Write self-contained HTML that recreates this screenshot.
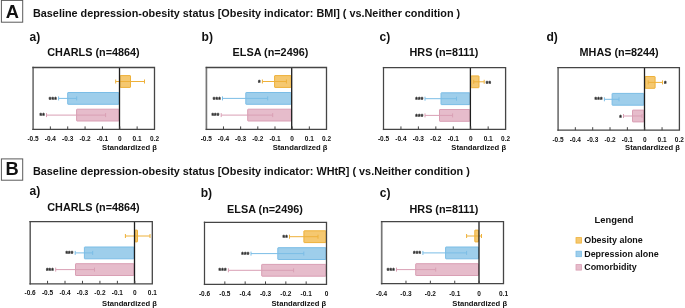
<!DOCTYPE html>
<html><head><meta charset="utf-8"><style>
html,body{margin:0;padding:0;background:#fff;}
body{width:685px;height:308px;overflow:hidden;}
svg{display:block;will-change:transform;}
text{font-family:"Liberation Sans", sans-serif;fill:#111;}
.big{font-size:18.3px;font-weight:bold;}
.mt{font-size:10.84px;font-weight:bold;}
.ti{font-size:10.84px;font-weight:bold;}
.lb{font-size:13px;font-weight:bold;}
.tk{font-size:7.95px;font-weight:bold;}
.sd{font-size:8.05px;font-weight:bold;}
.st{font-size:6.4px;font-weight:bold;fill:#222;stroke:#333;stroke-width:0.3px;letter-spacing:0.25px;}
.lg{font-size:8.95px;font-weight:bold;}
</style></head><body>
<svg width="685" height="308" viewBox="0 0 685 308">
<rect x="1.4" y="0.4" width="21.3" height="21.8" fill="#fff" stroke="#5a5a5a" stroke-width="1"/>
<text x="5.8" y="17.5" class="big">A</text>
<text x="33" y="16.6" class="mt">Baseline depression-obesity status [Obesity indicator: BMI] ( vs.Neither condition )</text>
<rect x="1.4" y="158.9" width="21.3" height="21.3" fill="#fff" stroke="#5a5a5a" stroke-width="1"/>
<text x="5.6" y="174.9" class="big">B</text>
<text x="33" y="174.8" class="mt">Baseline depression-obesity status [Obesity indicator: WHtR] ( vs.Neither condition )</text>
<rect x="120.00" y="75.60" width="10.50" height="11.80" rx="0.4" fill="#F5C870" stroke="#EEB13A" stroke-width="1"/>
<path d="M115.70 81.50H144.50M115.70 79.50V83.50M144.50 79.50V83.50" stroke="#EEB13A" stroke-width="1" fill="none"/>
<rect x="67.70" y="92.50" width="51.30" height="11.80" rx="0.4" fill="#9ECEEB" stroke="#7BBDE6" stroke-width="1"/>
<path d="M58.60 98.40H76.70M58.60 96.40V100.40M76.70 96.40V100.40" stroke="#7BBDE6" stroke-width="1" fill="none"/>
<text x="57.00" y="101.50" class="st" text-anchor="end">***</text>
<rect x="76.60" y="109.20" width="42.40" height="11.80" rx="0.4" fill="#E6BCCB" stroke="#D99FB4" stroke-width="1"/>
<path d="M46.50 115.10H105.60M46.50 113.10V117.10M105.60 113.10V117.10" stroke="#D99FB4" stroke-width="1" fill="none"/>
<text x="44.90" y="118.20" class="st" text-anchor="end">**</text>
<line x1="119.50" y1="67.50" x2="119.50" y2="129.40" stroke="#1e1e1e" stroke-width="1.3"/>
<line x1="50.36" y1="126.40" x2="50.36" y2="129.40" stroke="#454545" stroke-width="1"/>
<line x1="67.71" y1="126.40" x2="67.71" y2="129.40" stroke="#454545" stroke-width="1"/>
<line x1="85.07" y1="126.40" x2="85.07" y2="129.40" stroke="#454545" stroke-width="1"/>
<line x1="102.43" y1="126.40" x2="102.43" y2="129.40" stroke="#454545" stroke-width="1"/>
<line x1="119.79" y1="126.40" x2="119.79" y2="129.40" stroke="#454545" stroke-width="1"/>
<line x1="137.14" y1="126.40" x2="137.14" y2="129.40" stroke="#454545" stroke-width="1"/>
<path d="M33.10 66.85V130.05" stroke="#767676" stroke-width="1.7" fill="none"/>
<path d="M32.35 67.50H154.50V129.40H32.35" stroke="#454545" stroke-width="1.3" fill="none" stroke-linejoin="miter"/>
<text x="33.00" y="140.80" class="tk" text-anchor="middle" transform="translate(33.00 0) scale(0.82 1) translate(-33.00 0)">-0.5</text>
<text x="50.36" y="140.80" class="tk" text-anchor="middle" transform="translate(50.36 0) scale(0.82 1) translate(-50.36 0)">-0.4</text>
<text x="67.71" y="140.80" class="tk" text-anchor="middle" transform="translate(67.71 0) scale(0.82 1) translate(-67.71 0)">-0.3</text>
<text x="85.07" y="140.80" class="tk" text-anchor="middle" transform="translate(85.07 0) scale(0.82 1) translate(-85.07 0)">-0.2</text>
<text x="102.43" y="140.80" class="tk" text-anchor="middle" transform="translate(102.43 0) scale(0.82 1) translate(-102.43 0)">-0.1</text>
<text x="119.79" y="140.80" class="tk" text-anchor="middle" transform="translate(119.79 0) scale(0.82 1) translate(-119.79 0)">0</text>
<text x="137.14" y="140.80" class="tk" text-anchor="middle" transform="translate(137.14 0) scale(0.82 1) translate(-137.14 0)">0.1</text>
<text x="154.50" y="140.80" class="tk" text-anchor="middle" transform="translate(154.50 0) scale(0.82 1) translate(-154.50 0)">0.2</text>
<text x="102.10" y="150.50" class="sd" transform="translate(102.10 0) scale(0.95 1) translate(-102.10 0)">Standardized β</text>
<text x="29.50" y="40.60" class="lb" transform="translate(29.50 0) scale(0.93 1) translate(-29.50 0)">a)</text>
<text x="47.30" y="55.60" class="ti">CHARLS (n=4864)</text>
<rect x="274.60" y="75.60" width="16.60" height="11.80" rx="0.4" fill="#F5C870" stroke="#EEB13A" stroke-width="1"/>
<path d="M262.40 81.50H286.40M262.40 79.50V83.50M286.40 79.50V83.50" stroke="#EEB13A" stroke-width="1" fill="none"/>
<text x="260.80" y="84.60" class="st" text-anchor="end">*</text>
<rect x="245.80" y="92.50" width="45.40" height="11.80" rx="0.4" fill="#9ECEEB" stroke="#7BBDE6" stroke-width="1"/>
<path d="M222.50 98.40H267.70M222.50 96.40V100.40M267.70 96.40V100.40" stroke="#7BBDE6" stroke-width="1" fill="none"/>
<text x="220.90" y="101.50" class="st" text-anchor="end">***</text>
<rect x="247.70" y="109.20" width="43.50" height="11.80" rx="0.4" fill="#E6BCCB" stroke="#D99FB4" stroke-width="1"/>
<path d="M221.20 115.10H272.70M221.20 113.10V117.10M272.70 113.10V117.10" stroke="#D99FB4" stroke-width="1" fill="none"/>
<text x="219.60" y="118.20" class="st" text-anchor="end">***</text>
<line x1="291.70" y1="67.50" x2="291.70" y2="129.40" stroke="#1e1e1e" stroke-width="1.3"/>
<line x1="223.47" y1="126.40" x2="223.47" y2="129.40" stroke="#454545" stroke-width="1"/>
<line x1="240.64" y1="126.40" x2="240.64" y2="129.40" stroke="#454545" stroke-width="1"/>
<line x1="257.81" y1="126.40" x2="257.81" y2="129.40" stroke="#454545" stroke-width="1"/>
<line x1="274.99" y1="126.40" x2="274.99" y2="129.40" stroke="#454545" stroke-width="1"/>
<line x1="292.16" y1="126.40" x2="292.16" y2="129.40" stroke="#454545" stroke-width="1"/>
<line x1="309.33" y1="126.40" x2="309.33" y2="129.40" stroke="#454545" stroke-width="1"/>
<path d="M206.40 66.85V130.05" stroke="#767676" stroke-width="1.7" fill="none"/>
<path d="M205.65 67.50H326.50V129.40H205.65" stroke="#454545" stroke-width="1.3" fill="none" stroke-linejoin="miter"/>
<text x="206.30" y="140.80" class="tk" text-anchor="middle" transform="translate(206.30 0) scale(0.82 1) translate(-206.30 0)">-0.5</text>
<text x="223.47" y="140.80" class="tk" text-anchor="middle" transform="translate(223.47 0) scale(0.82 1) translate(-223.47 0)">-0.4</text>
<text x="240.64" y="140.80" class="tk" text-anchor="middle" transform="translate(240.64 0) scale(0.82 1) translate(-240.64 0)">-0.3</text>
<text x="257.81" y="140.80" class="tk" text-anchor="middle" transform="translate(257.81 0) scale(0.82 1) translate(-257.81 0)">-0.2</text>
<text x="274.99" y="140.80" class="tk" text-anchor="middle" transform="translate(274.99 0) scale(0.82 1) translate(-274.99 0)">-0.1</text>
<text x="292.16" y="140.80" class="tk" text-anchor="middle" transform="translate(292.16 0) scale(0.82 1) translate(-292.16 0)">0</text>
<text x="309.33" y="140.80" class="tk" text-anchor="middle" transform="translate(309.33 0) scale(0.82 1) translate(-309.33 0)">0.1</text>
<text x="326.50" y="140.80" class="tk" text-anchor="middle" transform="translate(326.50 0) scale(0.82 1) translate(-326.50 0)">0.2</text>
<text x="272.70" y="150.50" class="sd" transform="translate(272.70 0) scale(0.95 1) translate(-272.70 0)">Standardized β</text>
<text x="201.60" y="41.10" class="lb" transform="translate(201.60 0) scale(0.93 1) translate(-201.60 0)">b)</text>
<text x="232.60" y="56.00" class="ti">ELSA (n=2496)</text>
<rect x="470.90" y="75.90" width="8.10" height="11.80" rx="0.4" fill="#F5C870" stroke="#EEB13A" stroke-width="1"/>
<path d="M473.70 81.80H484.20M473.70 79.80V83.80M484.20 79.80V83.80" stroke="#EEB13A" stroke-width="1" fill="none"/>
<text x="485.80" y="85.80" class="st">**</text>
<rect x="441.00" y="92.80" width="28.90" height="11.80" rx="0.4" fill="#9ECEEB" stroke="#7BBDE6" stroke-width="1"/>
<path d="M425.00 98.70H456.50M425.00 96.70V100.70M456.50 96.70V100.70" stroke="#7BBDE6" stroke-width="1" fill="none"/>
<text x="423.40" y="101.80" class="st" text-anchor="end">***</text>
<rect x="439.50" y="109.50" width="30.40" height="11.80" rx="0.4" fill="#E6BCCB" stroke="#D99FB4" stroke-width="1"/>
<path d="M425.00 115.40H452.60M425.00 113.40V117.40M452.60 113.40V117.40" stroke="#D99FB4" stroke-width="1" fill="none"/>
<text x="423.40" y="118.50" class="st" text-anchor="end">***</text>
<line x1="470.40" y1="67.60" x2="470.40" y2="129.40" stroke="#1e1e1e" stroke-width="1.3"/>
<line x1="400.94" y1="126.40" x2="400.94" y2="129.40" stroke="#454545" stroke-width="1"/>
<line x1="418.39" y1="126.40" x2="418.39" y2="129.40" stroke="#454545" stroke-width="1"/>
<line x1="435.83" y1="126.40" x2="435.83" y2="129.40" stroke="#454545" stroke-width="1"/>
<line x1="453.27" y1="126.40" x2="453.27" y2="129.40" stroke="#454545" stroke-width="1"/>
<line x1="470.71" y1="126.40" x2="470.71" y2="129.40" stroke="#454545" stroke-width="1"/>
<line x1="488.16" y1="126.40" x2="488.16" y2="129.40" stroke="#454545" stroke-width="1"/>
<path d="M383.50 66.95V130.05" stroke="#454545" stroke-width="1.25" fill="none"/>
<path d="M382.85 67.60H505.60V129.40H382.85" stroke="#454545" stroke-width="1.3" fill="none" stroke-linejoin="miter"/>
<text x="383.50" y="140.80" class="tk" text-anchor="middle" transform="translate(383.50 0) scale(0.82 1) translate(-383.50 0)">-0.5</text>
<text x="400.94" y="140.80" class="tk" text-anchor="middle" transform="translate(400.94 0) scale(0.82 1) translate(-400.94 0)">-0.4</text>
<text x="418.39" y="140.80" class="tk" text-anchor="middle" transform="translate(418.39 0) scale(0.82 1) translate(-418.39 0)">-0.3</text>
<text x="435.83" y="140.80" class="tk" text-anchor="middle" transform="translate(435.83 0) scale(0.82 1) translate(-435.83 0)">-0.2</text>
<text x="453.27" y="140.80" class="tk" text-anchor="middle" transform="translate(453.27 0) scale(0.82 1) translate(-453.27 0)">-0.1</text>
<text x="470.71" y="140.80" class="tk" text-anchor="middle" transform="translate(470.71 0) scale(0.82 1) translate(-470.71 0)">0</text>
<text x="488.16" y="140.80" class="tk" text-anchor="middle" transform="translate(488.16 0) scale(0.82 1) translate(-488.16 0)">0.1</text>
<text x="505.60" y="140.80" class="tk" text-anchor="middle" transform="translate(505.60 0) scale(0.82 1) translate(-505.60 0)">0.2</text>
<text x="451.30" y="150.50" class="sd" transform="translate(451.30 0) scale(0.95 1) translate(-451.30 0)">Standardized β</text>
<text x="379.50" y="41.00" class="lb" transform="translate(379.50 0) scale(0.93 1) translate(-379.50 0)">c)</text>
<text x="409.50" y="56.10" class="ti">HRS (n=8111)</text>
<rect x="645.00" y="76.50" width="10.10" height="11.80" rx="0.4" fill="#F5C870" stroke="#EEB13A" stroke-width="1"/>
<path d="M648.20 82.40H662.50M648.20 80.40V84.40M662.50 80.40V84.40" stroke="#EEB13A" stroke-width="1" fill="none"/>
<text x="664.10" y="85.50" class="st">*</text>
<rect x="612.10" y="93.40" width="31.90" height="11.80" rx="0.4" fill="#9ECEEB" stroke="#7BBDE6" stroke-width="1"/>
<path d="M604.40 99.30H619.00M604.40 97.30V101.30M619.00 97.30V101.30" stroke="#7BBDE6" stroke-width="1" fill="none"/>
<text x="602.80" y="102.40" class="st" text-anchor="end">***</text>
<rect x="632.50" y="110.10" width="11.50" height="11.80" rx="0.4" fill="#E6BCCB" stroke="#D99FB4" stroke-width="1"/>
<path d="M623.50 116.00H642.00M623.50 114.00V118.00M642.00 114.00V118.00" stroke="#D99FB4" stroke-width="1" fill="none"/>
<text x="621.90" y="120.40" class="st" text-anchor="end">*</text>
<line x1="644.50" y1="67.60" x2="644.50" y2="130.20" stroke="#1e1e1e" stroke-width="1.3"/>
<line x1="575.34" y1="127.20" x2="575.34" y2="130.20" stroke="#454545" stroke-width="1"/>
<line x1="592.69" y1="127.20" x2="592.69" y2="130.20" stroke="#454545" stroke-width="1"/>
<line x1="610.03" y1="127.20" x2="610.03" y2="130.20" stroke="#454545" stroke-width="1"/>
<line x1="627.37" y1="127.20" x2="627.37" y2="130.20" stroke="#454545" stroke-width="1"/>
<line x1="644.71" y1="127.20" x2="644.71" y2="130.20" stroke="#454545" stroke-width="1"/>
<line x1="662.06" y1="127.20" x2="662.06" y2="130.20" stroke="#454545" stroke-width="1"/>
<path d="M558.10 66.95V130.85" stroke="#767676" stroke-width="1.7" fill="none"/>
<path d="M557.35 67.60H679.40V130.20H557.35" stroke="#454545" stroke-width="1.3" fill="none" stroke-linejoin="miter"/>
<text x="558.00" y="142.10" class="tk" text-anchor="middle" transform="translate(558.00 0) scale(0.82 1) translate(-558.00 0)">-0.5</text>
<text x="575.34" y="142.10" class="tk" text-anchor="middle" transform="translate(575.34 0) scale(0.82 1) translate(-575.34 0)">-0.4</text>
<text x="592.69" y="142.10" class="tk" text-anchor="middle" transform="translate(592.69 0) scale(0.82 1) translate(-592.69 0)">-0.3</text>
<text x="610.03" y="142.10" class="tk" text-anchor="middle" transform="translate(610.03 0) scale(0.82 1) translate(-610.03 0)">-0.2</text>
<text x="627.37" y="142.10" class="tk" text-anchor="middle" transform="translate(627.37 0) scale(0.82 1) translate(-627.37 0)">-0.1</text>
<text x="644.71" y="142.10" class="tk" text-anchor="middle" transform="translate(644.71 0) scale(0.82 1) translate(-644.71 0)">0</text>
<text x="662.06" y="142.10" class="tk" text-anchor="middle" transform="translate(662.06 0) scale(0.82 1) translate(-662.06 0)">0.1</text>
<text x="679.40" y="142.10" class="tk" text-anchor="middle" transform="translate(679.40 0) scale(0.82 1) translate(-679.40 0)">0.2</text>
<text x="625.10" y="150.50" class="sd" transform="translate(625.10 0) scale(0.95 1) translate(-625.10 0)">Standardized β</text>
<text x="546.40" y="40.80" class="lb" transform="translate(546.40 0) scale(0.93 1) translate(-546.40 0)">d)</text>
<text x="579.60" y="56.20" class="ti">MHAS (n=8244)</text>
<rect x="135.00" y="230.10" width="2.50" height="11.80" rx="0.4" fill="#F5C870" stroke="#EEB13A" stroke-width="1"/>
<path d="M125.40 236.00H150.00M125.40 234.00V238.00M150.00 234.00V238.00" stroke="#EEB13A" stroke-width="1" fill="none"/>
<rect x="84.40" y="247.00" width="49.60" height="11.80" rx="0.4" fill="#9ECEEB" stroke="#7BBDE6" stroke-width="1"/>
<path d="M75.20 252.90H92.70M75.20 250.90V254.90M92.70 250.90V254.90" stroke="#7BBDE6" stroke-width="1" fill="none"/>
<text x="73.60" y="256.00" class="st" text-anchor="end">***</text>
<rect x="75.50" y="263.70" width="58.50" height="11.80" rx="0.4" fill="#E6BCCB" stroke="#D99FB4" stroke-width="1"/>
<path d="M55.70 269.60H94.50M55.70 267.60V271.60M94.50 267.60V271.60" stroke="#D99FB4" stroke-width="1" fill="none"/>
<text x="54.10" y="272.70" class="st" text-anchor="end">***</text>
<line x1="134.50" y1="221.60" x2="134.50" y2="283.80" stroke="#1e1e1e" stroke-width="1.3"/>
<line x1="47.56" y1="280.80" x2="47.56" y2="283.80" stroke="#454545" stroke-width="1"/>
<line x1="65.01" y1="280.80" x2="65.01" y2="283.80" stroke="#454545" stroke-width="1"/>
<line x1="82.47" y1="280.80" x2="82.47" y2="283.80" stroke="#454545" stroke-width="1"/>
<line x1="99.93" y1="280.80" x2="99.93" y2="283.80" stroke="#454545" stroke-width="1"/>
<line x1="117.39" y1="280.80" x2="117.39" y2="283.80" stroke="#454545" stroke-width="1"/>
<line x1="134.84" y1="280.80" x2="134.84" y2="283.80" stroke="#454545" stroke-width="1"/>
<path d="M30.20 220.95V284.45" stroke="#5c5c5c" stroke-width="1.5" fill="none"/>
<path d="M29.45 221.60H152.30V283.80H29.45" stroke="#454545" stroke-width="1.3" fill="none" stroke-linejoin="miter"/>
<text x="30.10" y="295.50" class="tk" text-anchor="middle" transform="translate(30.10 0) scale(0.82 1) translate(-30.10 0)">-0.6</text>
<text x="47.56" y="295.50" class="tk" text-anchor="middle" transform="translate(47.56 0) scale(0.82 1) translate(-47.56 0)">-0.5</text>
<text x="65.01" y="295.50" class="tk" text-anchor="middle" transform="translate(65.01 0) scale(0.82 1) translate(-65.01 0)">-0.4</text>
<text x="82.47" y="295.50" class="tk" text-anchor="middle" transform="translate(82.47 0) scale(0.82 1) translate(-82.47 0)">-0.3</text>
<text x="99.93" y="295.50" class="tk" text-anchor="middle" transform="translate(99.93 0) scale(0.82 1) translate(-99.93 0)">-0.2</text>
<text x="117.39" y="295.50" class="tk" text-anchor="middle" transform="translate(117.39 0) scale(0.82 1) translate(-117.39 0)">-0.1</text>
<text x="134.84" y="295.50" class="tk" text-anchor="middle" transform="translate(134.84 0) scale(0.82 1) translate(-134.84 0)">0</text>
<text x="152.30" y="295.50" class="tk" text-anchor="middle" transform="translate(152.30 0) scale(0.82 1) translate(-152.30 0)">0.1</text>
<text x="102.10" y="305.70" class="sd" transform="translate(102.10 0) scale(0.95 1) translate(-102.10 0)">Standardized β</text>
<text x="29.50" y="195.50" class="lb" transform="translate(29.50 0) scale(0.93 1) translate(-29.50 0)">a)</text>
<text x="47.30" y="211.30" class="ti">CHARLS (n=4864)</text>
<rect x="303.90" y="230.80" width="22.10" height="11.80" rx="0.4" fill="#F5C870" stroke="#EEB13A" stroke-width="1"/>
<path d="M289.50 236.70H318.00M289.50 234.70V238.70M318.00 234.70V238.70" stroke="#EEB13A" stroke-width="1" fill="none"/>
<text x="287.90" y="239.80" class="st" text-anchor="end">**</text>
<rect x="277.80" y="247.70" width="48.20" height="11.80" rx="0.4" fill="#9ECEEB" stroke="#7BBDE6" stroke-width="1"/>
<path d="M251.00 253.60H303.80M251.00 251.60V255.60M303.80 251.60V255.60" stroke="#7BBDE6" stroke-width="1" fill="none"/>
<text x="249.40" y="256.70" class="st" text-anchor="end">***</text>
<rect x="261.70" y="264.40" width="64.30" height="11.80" rx="0.4" fill="#E6BCCB" stroke="#D99FB4" stroke-width="1"/>
<path d="M228.40 270.30H293.60M228.40 268.30V272.30M293.60 268.30V272.30" stroke="#D99FB4" stroke-width="1" fill="none"/>
<text x="226.80" y="273.40" class="st" text-anchor="end">***</text>
<line x1="224.83" y1="281.40" x2="224.83" y2="284.40" stroke="#454545" stroke-width="1"/>
<line x1="245.17" y1="281.40" x2="245.17" y2="284.40" stroke="#454545" stroke-width="1"/>
<line x1="265.50" y1="281.40" x2="265.50" y2="284.40" stroke="#454545" stroke-width="1"/>
<line x1="285.83" y1="281.40" x2="285.83" y2="284.40" stroke="#454545" stroke-width="1"/>
<line x1="306.17" y1="281.40" x2="306.17" y2="284.40" stroke="#454545" stroke-width="1"/>
<path d="M204.50 221.65V285.05" stroke="#454545" stroke-width="1.25" fill="none"/>
<path d="M203.85 222.30H326.50V284.40H203.85" stroke="#454545" stroke-width="1.3" fill="none" stroke-linejoin="miter"/>
<text x="204.50" y="295.60" class="tk" text-anchor="middle" transform="translate(204.50 0) scale(0.82 1) translate(-204.50 0)">-0.6</text>
<text x="224.83" y="295.60" class="tk" text-anchor="middle" transform="translate(224.83 0) scale(0.82 1) translate(-224.83 0)">-0.5</text>
<text x="245.17" y="295.60" class="tk" text-anchor="middle" transform="translate(245.17 0) scale(0.82 1) translate(-245.17 0)">-0.4</text>
<text x="265.50" y="295.60" class="tk" text-anchor="middle" transform="translate(265.50 0) scale(0.82 1) translate(-265.50 0)">-0.3</text>
<text x="285.83" y="295.60" class="tk" text-anchor="middle" transform="translate(285.83 0) scale(0.82 1) translate(-285.83 0)">-0.2</text>
<text x="306.17" y="295.60" class="tk" text-anchor="middle" transform="translate(306.17 0) scale(0.82 1) translate(-306.17 0)">-0.1</text>
<text x="326.50" y="295.60" class="tk" text-anchor="middle" transform="translate(326.50 0) scale(0.82 1) translate(-326.50 0)">0</text>
<text x="271.50" y="305.70" class="sd" transform="translate(271.50 0) scale(0.95 1) translate(-271.50 0)">Standardized β</text>
<text x="200.70" y="196.80" class="lb" transform="translate(200.70 0) scale(0.93 1) translate(-200.70 0)">b)</text>
<text x="227.10" y="213.20" class="ti">ELSA (n=2496)</text>
<rect x="474.80" y="230.10" width="3.70" height="11.80" rx="0.4" fill="#F5C870" stroke="#EEB13A" stroke-width="1"/>
<path d="M466.60 236.00H481.50M466.60 234.00V238.00M481.50 234.00V238.00" stroke="#EEB13A" stroke-width="1" fill="none"/>
<rect x="445.60" y="247.00" width="32.90" height="11.80" rx="0.4" fill="#9ECEEB" stroke="#7BBDE6" stroke-width="1"/>
<path d="M422.90 252.90H466.60M422.90 250.90V254.90M466.60 250.90V254.90" stroke="#7BBDE6" stroke-width="1" fill="none"/>
<text x="421.30" y="256.00" class="st" text-anchor="end">***</text>
<rect x="415.70" y="263.70" width="62.80" height="11.80" rx="0.4" fill="#E6BCCB" stroke="#D99FB4" stroke-width="1"/>
<path d="M396.50 269.60H435.70M396.50 267.60V271.60M435.70 267.60V271.60" stroke="#D99FB4" stroke-width="1" fill="none"/>
<text x="394.90" y="272.70" class="st" text-anchor="end">***</text>
<line x1="479.00" y1="221.60" x2="479.00" y2="283.70" stroke="#1e1e1e" stroke-width="1.3"/>
<line x1="405.98" y1="280.70" x2="405.98" y2="283.70" stroke="#454545" stroke-width="1"/>
<line x1="430.36" y1="280.70" x2="430.36" y2="283.70" stroke="#454545" stroke-width="1"/>
<line x1="454.74" y1="280.70" x2="454.74" y2="283.70" stroke="#454545" stroke-width="1"/>
<line x1="479.12" y1="280.70" x2="479.12" y2="283.70" stroke="#454545" stroke-width="1"/>
<path d="M381.70 220.95V284.35" stroke="#767676" stroke-width="1.7" fill="none"/>
<path d="M380.95 221.60H503.50V283.70H380.95" stroke="#454545" stroke-width="1.3" fill="none" stroke-linejoin="miter"/>
<text x="381.60" y="295.60" class="tk" text-anchor="middle" transform="translate(381.60 0) scale(0.82 1) translate(-381.60 0)">-0.4</text>
<text x="405.98" y="295.60" class="tk" text-anchor="middle" transform="translate(405.98 0) scale(0.82 1) translate(-405.98 0)">-0.3</text>
<text x="430.36" y="295.60" class="tk" text-anchor="middle" transform="translate(430.36 0) scale(0.82 1) translate(-430.36 0)">-0.2</text>
<text x="454.74" y="295.60" class="tk" text-anchor="middle" transform="translate(454.74 0) scale(0.82 1) translate(-454.74 0)">-0.1</text>
<text x="479.12" y="295.60" class="tk" text-anchor="middle" transform="translate(479.12 0) scale(0.82 1) translate(-479.12 0)">0</text>
<text x="503.50" y="295.60" class="tk" text-anchor="middle" transform="translate(503.50 0) scale(0.82 1) translate(-503.50 0)">0.1</text>
<text x="452.30" y="305.70" class="sd" transform="translate(452.30 0) scale(0.95 1) translate(-452.30 0)">Standardized β</text>
<text x="379.80" y="197.20" class="lb" transform="translate(379.80 0) scale(0.93 1) translate(-379.80 0)">c)</text>
<text x="409.50" y="213.10" class="ti">HRS (n=8111)</text>
<text x="594.6" y="223.3" class="lg" style="font-size:9.35px">Lengend</text>
<rect x="576" y="237.6" width="5.5" height="5.5" fill="#F5C870" stroke="#EEB13A" stroke-width="0.8"/>
<rect x="576" y="251.2" width="5.5" height="5.5" fill="#9ECEEB" stroke="#7BBDE6" stroke-width="0.8"/>
<rect x="576" y="264.6" width="5.5" height="5.5" fill="#E6BCCB" stroke="#D99FB4" stroke-width="0.8"/>
<text x="584.2" y="243.1" class="lg">Obesity alone</text>
<text x="584.2" y="256.7" class="lg">Depression alone</text>
<text x="584.2" y="270.2" class="lg">Comorbidity</text>
</svg>
</body></html>
